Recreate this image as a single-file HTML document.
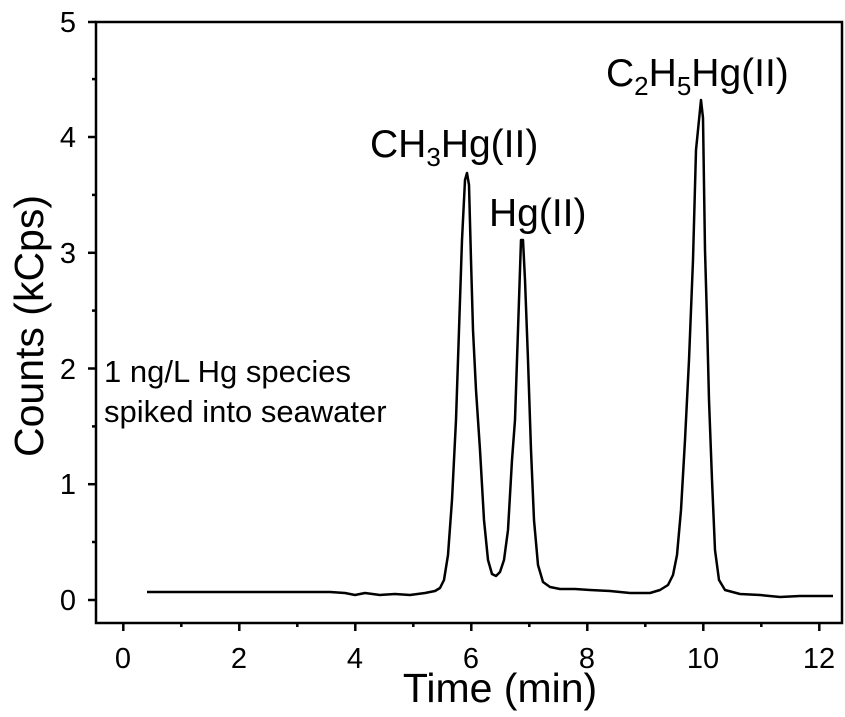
<!DOCTYPE html><html><head><style>body{margin:0;background:#fff}svg{display:block}text{font-family:"Liberation Sans",Arial,sans-serif;fill:#000}</style></head><body>
<svg width="845" height="717" viewBox="0 0 845 717">
<rect x="96" y="22" width="746" height="601" fill="none" stroke="#000" stroke-width="2.5"/>
<g stroke="#000" stroke-width="2.5">
<line x1="123.3" y1="623" x2="123.3" y2="631"/><line x1="239.3" y1="623" x2="239.3" y2="631"/><line x1="355.3" y1="623" x2="355.3" y2="631"/><line x1="471.3" y1="623" x2="471.3" y2="631"/><line x1="587.3" y1="623" x2="587.3" y2="631"/><line x1="703.3" y1="623" x2="703.3" y2="631"/><line x1="819.3" y1="623" x2="819.3" y2="631"/>
<line x1="181.3" y1="623" x2="181.3" y2="627"/><line x1="297.3" y1="623" x2="297.3" y2="627"/><line x1="413.3" y1="623" x2="413.3" y2="627"/><line x1="529.3" y1="623" x2="529.3" y2="627"/><line x1="645.3" y1="623" x2="645.3" y2="627"/><line x1="761.3" y1="623" x2="761.3" y2="627"/>
<line x1="96" y1="600" x2="88" y2="600"/><line x1="96" y1="484.2" x2="88" y2="484.2"/><line x1="96" y1="368.5" x2="88" y2="368.5"/><line x1="96" y1="252.8" x2="88" y2="252.8"/><line x1="96" y1="137" x2="88" y2="137"/><line x1="96" y1="22" x2="88" y2="22"/>
<line x1="96" y1="542" x2="92" y2="542"/><line x1="96" y1="426.4" x2="92" y2="426.4"/><line x1="96" y1="310.6" x2="92" y2="310.6"/><line x1="96" y1="194.9" x2="92" y2="194.9"/><line x1="96" y1="79.1" x2="92" y2="79.1"/>
</g>
<g font-size="29" text-anchor="middle">
<text x="123" y="668">0</text><text x="239" y="668">2</text><text x="355" y="668">4</text><text x="471" y="668">6</text><text x="587" y="668">8</text><text x="703" y="668">10</text><text x="819" y="668">12</text>
</g>
<g font-size="29" text-anchor="end">
<text x="76" y="610">0</text><text x="76" y="494">1</text><text x="76" y="379">2</text><text x="76" y="263">3</text><text x="76" y="147">4</text><text x="76" y="32">5</text>
</g>
<text x="500" y="702" font-size="41" text-anchor="middle">Time (min)</text>
<text transform="translate(43,326) rotate(-90)" font-size="41" text-anchor="middle">Counts (kCps)</text>
<text x="104" y="382" font-size="31">1 ng/L Hg species</text>
<text x="104" y="422" font-size="31">spiked into seawater</text>
<text x="370" y="157" font-size="39">CH<tspan font-size="26" dy="9">3</tspan><tspan dy="-9">Hg(II)</tspan></text>
<text x="489" y="226" font-size="39">Hg(II)</text>
<text x="606" y="86" font-size="39">C<tspan font-size="26" dy="9">2</tspan><tspan dy="-9">H</tspan><tspan font-size="26" dy="9">5</tspan><tspan dy="-9">Hg(II)</tspan></text>
<path fill="none" stroke="#000" stroke-width="2.5" stroke-linejoin="round" d="M147,592 L330,592 L345,593 L355,595 L365,593 L380,595 L395,594 L410,595 L425,593 L435,591 L440,588 L444,580 L448,555 L452,500 L456,420 L459,330 L462,240 L465,180 L467,173 L469,185 L471,260 L473,330 L476,390 L480,450 L484,520 L488,560 L492,574 L496,576 L500,572 L504,560 L508,530 L512,460 L515,420 L518,330 L521,240 L523,240 L525,280 L528,360 L531,450 L534,520 L538,565 L543,582 L550,587 L560,589 L575,589 L590,590 L610,591 L630,593 L650,593 L660,590 L668,585 L673,575 L677,555 L681,510 L685,440 L689,360 L693,260 L696,150 L699,120 L701,100 L703,118 L705,250 L707,320 L709,400 L712,480 L715,550 L719,580 L725,590 L740,594 L760,595 L780,597 L800,596 L833,596"/>
</svg></body></html>
